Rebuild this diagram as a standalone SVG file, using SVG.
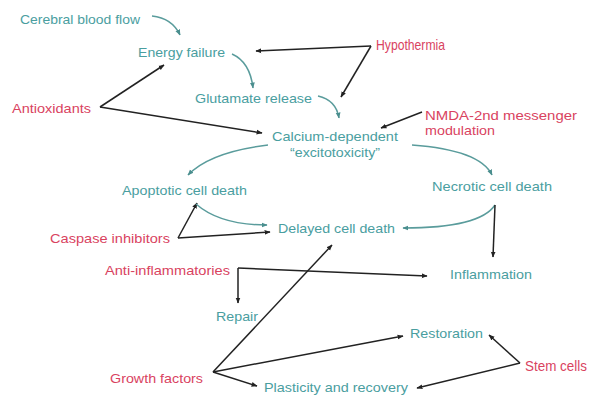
<svg xmlns="http://www.w3.org/2000/svg" width="592" height="399" viewBox="0 0 592 399">
<defs>
<style>
text{font-family:"Liberation Sans",Arial,sans-serif;font-size:13.5px}
.t{fill:#4a9e9f}
.r{fill:#d9435f}
.big{font-size:14.5px}
.k{stroke:#222;stroke-width:1.5;fill:none;marker-end:url(#ak)}
.c{stroke:#5a9c9c;stroke-width:1.5;fill:none;marker-end:url(#ac)}
</style>
<marker id="ak" viewBox="0 0 10 10" refX="9" refY="5" markerWidth="6" markerHeight="6" markerUnits="userSpaceOnUse" orient="auto"><path d="M0,1 L10,5 L0,9 z" fill="#222"/></marker>
<marker id="ac" viewBox="0 0 10 10" refX="9" refY="5" markerWidth="6" markerHeight="6" markerUnits="userSpaceOnUse" orient="auto"><path d="M0,1 L10,5 L0,9 z" fill="#4a8e8e"/></marker>
</defs>
<rect width="592" height="399" fill="#fff"/>
<g id="connectors">
<path class="c" d="M152,16 Q172,18 180,35"/>
<path class="c" d="M232,54 Q250,62 253,88"/>
<path class="k" d="M371,46 L256,51"/>
<path class="k" d="M371,46 L341,97"/>
<path class="k" d="M100,107 L164,65"/>
<path class="k" d="M100,107 L262,133"/>
<path class="c" d="M318,96 Q336,100 339,118"/>
<path class="k" d="M422,112 L381,128"/>
<path class="c" d="M268,145 Q210,152 188,175"/>
<path class="c" d="M412,145 Q480,150 492,175"/>
<path class="k" d="M178,238 L270,232"/>
<path class="k" d="M178,238 L197,203"/>
<path class="c" d="M196,204 Q220,225 267,225"/>
<path class="c" d="M495,205 Q480,228 403,228"/>
<path class="k" d="M495,205 L493,257"/>
<path class="k" d="M238,268 L427,276"/>
<path class="k" d="M238,268 L238,303"/>
<path class="k" d="M213,372 L332,245"/>
<path class="k" d="M213,372 L403,336"/>
<path class="k" d="M213,372 L257,386"/>
<path class="k" d="M520,363 L489,335"/>
<path class="k" d="M520,363 L417,388"/>
</g>
<g id="cerebral-blood-flow"><text class="t" x="20" y="24" textLength="120" lengthAdjust="spacingAndGlyphs">Cerebral blood flow</text></g>
<g id="energy-failure"><text class="t" x="138" y="57" textLength="87" lengthAdjust="spacingAndGlyphs">Energy failure</text></g>
<g id="hypothermia"><text class="r big" x="376" y="50" textLength="69" lengthAdjust="spacingAndGlyphs">Hypothermia</text></g>
<g id="antioxidants"><text class="r" x="12" y="113" textLength="79" lengthAdjust="spacingAndGlyphs">Antioxidants</text></g>
<g id="glutamate-release"><text class="t" x="195" y="103" textLength="117" lengthAdjust="spacingAndGlyphs">Glutamate release</text></g>
<g id="nmda"><text class="r" x="425" y="120" textLength="152" lengthAdjust="spacingAndGlyphs">NMDA-2nd messenger</text><text class="r" x="425" y="135" textLength="70" lengthAdjust="spacingAndGlyphs">modulation</text></g>
<g id="calcium"><text class="t" x="272" y="141" textLength="126" lengthAdjust="spacingAndGlyphs">Calcium-dependent</text><text class="t" x="290" y="157" textLength="90" lengthAdjust="spacingAndGlyphs">“excitotoxicity”</text></g>
<g id="apoptotic"><text class="t" x="122" y="195" textLength="125" lengthAdjust="spacingAndGlyphs">Apoptotic cell death</text></g>
<g id="necrotic"><text class="t" x="432" y="191" textLength="120" lengthAdjust="spacingAndGlyphs">Necrotic cell death</text></g>
<g id="delayed"><text class="t" x="278" y="233" textLength="117" lengthAdjust="spacingAndGlyphs">Delayed cell death</text></g>
<g id="caspase"><text class="r" x="50" y="243" textLength="120" lengthAdjust="spacingAndGlyphs">Caspase inhibitors</text></g>
<g id="anti-inflammatories"><text class="r" x="105" y="275" textLength="125" lengthAdjust="spacingAndGlyphs">Anti-inflammatories</text></g>
<g id="inflammation"><text class="t" x="450" y="279" textLength="82" lengthAdjust="spacingAndGlyphs">Inflammation</text></g>
<g id="repair"><text class="t" x="216" y="321" textLength="42" lengthAdjust="spacingAndGlyphs">Repair</text></g>
<g id="restoration"><text class="t" x="410" y="338" textLength="73" lengthAdjust="spacingAndGlyphs">Restoration</text></g>
<g id="stem-cells"><text class="r big" x="525" y="371" textLength="62" lengthAdjust="spacingAndGlyphs">Stem cells</text></g>
<g id="growth-factors"><text class="r" x="110" y="383" textLength="93" lengthAdjust="spacingAndGlyphs">Growth factors</text></g>
<g id="plasticity"><text class="t" x="264" y="392" textLength="144" lengthAdjust="spacingAndGlyphs">Plasticity and recovery</text></g>
</svg>
